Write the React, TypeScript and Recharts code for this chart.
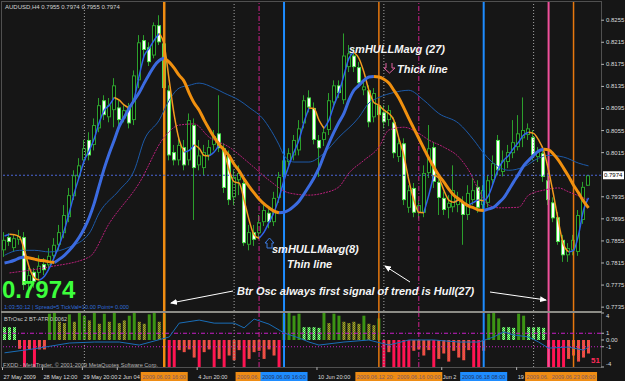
import React from "react"
import { ComposedChart, Bar, Line, XAxis, YAxis, ReferenceLine, Cell } from "recharts"

const FONT = "'Liberation Sans', Arial, sans-serif"
const BG = "#161616"

// AUDUSD H4, 27 May - 23 Jun 2009 (118 bars)
const openP = [
  0.7838, 0.7862, 0.7842, 0.7857, 0.7862, 0.7779, 0.7799, 0.7797, 0.7813, 0.7811,
  0.7828, 0.7848, 0.7869, 0.7898, 0.7936, 0.7972, 0.8001, 0.8038, 0.8029, 0.8059,
  0.8110, 0.8079, 0.8092, 0.8097, 0.8077, 0.8096, 0.8074, 0.8146, 0.8219, 0.8206,
  0.8191, 0.8246, 0.8213, 0.8128, 0.8016, 0.8001, 0.8025, 0.8001, 0.8065, 0.7992,
  0.7987, 0.8010, 0.8029, 0.8050, 0.8023, 0.8010, 0.7934, 0.7965, 0.7960, 0.7848,
  0.7871, 0.7869, 0.7889, 0.7906, 0.7889, 0.7933, 0.7971, 0.7998, 0.8010, 0.8019,
  0.8068, 0.8115, 0.8096, 0.8038, 0.8038, 0.8056, 0.8106, 0.8137, 0.8110, 0.8170,
  0.8191, 0.8170, 0.8128, 0.8128, 0.8079, 0.8101, 0.8088, 0.8074, 0.8070, 0.8007,
  0.8032, 0.7915, 0.7951, 0.7906, 0.7906, 0.7978, 0.8025, 0.7962, 0.7933, 0.7915,
  0.7916, 0.7920, 0.7925, 0.7902, 0.7929, 0.7953, 0.7920, 0.7924, 0.7965, 0.8038,
  0.7980, 0.7998, 0.8014, 0.8025, 0.8041, 0.8047, 0.8043, 0.8007, 0.8014, 0.7965,
  0.7925, 0.7898, 0.7857, 0.7829, 0.7838, 0.7835, 0.7893, 0.7955,
]
const highP = [
  0.7871, 0.7869, 0.7867, 0.7875, 0.7871, 0.7806, 0.7806, 0.7829, 0.7824, 0.7842,
  0.7860, 0.7884, 0.7920, 0.7951, 0.7983, 0.8005, 0.8038, 0.8052, 0.8077, 0.8114,
  0.8119, 0.8114, 0.8150, 0.8110, 0.8101, 0.8105, 0.8164, 0.8228, 0.8228, 0.8215,
  0.8251, 0.8264, 0.8222, 0.8137, 0.8029, 0.8041, 0.8038, 0.8086, 0.8077, 0.8038,
  0.8029, 0.8038, 0.8056, 0.8119, 0.8032, 0.8019, 0.7983, 0.7992, 0.7974, 0.7884,
  0.7884, 0.7902, 0.7924, 0.7915, 0.7944, 0.7980, 0.8014, 0.8023, 0.8047, 0.8074,
  0.8119, 0.8128, 0.8106, 0.8047, 0.8063, 0.8123, 0.8146, 0.8146, 0.8231, 0.8210,
  0.8204, 0.8179, 0.8143, 0.8137, 0.8132, 0.8114, 0.8101, 0.8101, 0.8079, 0.8041,
  0.8041, 0.7956, 0.7960, 0.7929, 0.7992, 0.8065, 0.8034, 0.7972, 0.7944, 0.7938,
  0.7992, 0.7944, 0.7936, 0.7956, 0.7969, 0.7965, 0.7956, 0.7974, 0.8010, 0.8047,
  0.8019, 0.8029, 0.8074, 0.8083, 0.8115, 0.8068, 0.8056, 0.8025, 0.8023, 0.7978,
  0.7934, 0.7907, 0.7866, 0.7851, 0.7866, 0.7911, 0.7962, 0.7974,
]
const lowP = [
  0.7826, 0.7846, 0.7835, 0.7848, 0.7766, 0.7766, 0.7770, 0.7784, 0.7793, 0.7802,
  0.7820, 0.7838, 0.7860, 0.7889, 0.7929, 0.7965, 0.7992, 0.8001, 0.8019, 0.8052,
  0.8074, 0.8070, 0.8061, 0.8065, 0.8070, 0.8059, 0.8065, 0.8132, 0.8186, 0.8172,
  0.8186, 0.8210, 0.8124, 0.8001, 0.7992, 0.7992, 0.7983, 0.7992, 0.7893, 0.7983,
  0.7974, 0.8001, 0.8019, 0.8016, 0.7942, 0.7920, 0.7920, 0.7938, 0.7846, 0.7838,
  0.7846, 0.7860, 0.7882, 0.7878, 0.7882, 0.7924, 0.7962, 0.7987, 0.8001, 0.8010,
  0.8059, 0.8088, 0.8030, 0.7971, 0.8027, 0.8047, 0.8096, 0.8114, 0.8103, 0.8161,
  0.8161, 0.8132, 0.8119, 0.8061, 0.8070, 0.8074, 0.8059, 0.8063, 0.8005, 0.7998,
  0.7920, 0.7906, 0.7898, 0.7896, 0.7898, 0.7969, 0.7951, 0.7902, 0.7902, 0.7896,
  0.7907, 0.7907, 0.7848, 0.7893, 0.7920, 0.7906, 0.7911, 0.7916, 0.7956, 0.7974,
  0.7972, 0.7987, 0.8005, 0.8019, 0.8025, 0.8038, 0.8001, 0.7998, 0.7962, 0.7920,
  0.7889, 0.7848, 0.7817, 0.7817, 0.7829, 0.7828, 0.7886, 0.7955,
]
const closeP = [
  0.7857, 0.7853, 0.7860, 0.7864, 0.7775, 0.7793, 0.7781, 0.7810, 0.7802, 0.7828,
  0.7848, 0.7871, 0.7902, 0.7938, 0.7974, 0.7992, 0.8023, 0.8010, 0.8065, 0.8101,
  0.8083, 0.8101, 0.8137, 0.8074, 0.8092, 0.8068, 0.8155, 0.8215, 0.8201, 0.8179,
  0.8246, 0.8215, 0.8132, 0.8010, 0.8001, 0.8029, 0.7992, 0.8074, 0.7987, 0.8010,
  0.8016, 0.8025, 0.8045, 0.8023, 0.7951, 0.7929, 0.7971, 0.7978, 0.7851, 0.7871,
  0.7857, 0.7889, 0.7911, 0.7889, 0.7933, 0.7971, 0.8001, 0.8014, 0.8038, 0.8059,
  0.8110, 0.8097, 0.8038, 0.8023, 0.8052, 0.8110, 0.8137, 0.8123, 0.8191, 0.8195,
  0.8170, 0.8141, 0.8135, 0.8070, 0.8123, 0.8083, 0.8070, 0.8092, 0.8014, 0.8032,
  0.7929, 0.7947, 0.7906, 0.7920, 0.7978, 0.8023, 0.7962, 0.7933, 0.7911, 0.7924,
  0.7947, 0.7933, 0.7902, 0.7942, 0.7947, 0.7915, 0.7947, 0.7965, 0.7996, 0.7983,
  0.8001, 0.8016, 0.8034, 0.8050, 0.8056, 0.8059, 0.8010, 0.8016, 0.7971, 0.7929,
  0.7896, 0.7853, 0.7829, 0.7842, 0.7857, 0.7902, 0.7953, 0.7974,
]

// smHULLMavg(27) - thick line
const hull27 = [
  0.7815, 0.7817, 0.7820, 0.7824, 0.7826, 0.7824, 0.7822, 0.7820, 0.7819, 0.7817,
  0.7816, 0.7822, 0.7829, 0.7838, 0.7849, 0.7862, 0.7878, 0.7898, 0.7924, 0.7956,
  0.7987, 0.8014, 0.8038, 0.8063, 0.8079, 0.8096, 0.8110, 0.8124, 0.8141, 0.8157,
  0.8172, 0.8182, 0.8186, 0.8179, 0.8168, 0.8155, 0.8144, 0.8123, 0.8105, 0.8092,
  0.8074, 0.8058, 0.8043, 0.8030, 0.8020, 0.8009, 0.7994, 0.7982, 0.7967, 0.7954,
  0.7942, 0.7931, 0.7922, 0.7915, 0.7909, 0.7906, 0.7907, 0.7911, 0.7918, 0.7927,
  0.7940, 0.7954, 0.7969, 0.7987, 0.8010, 0.8032, 0.8052, 0.8070, 0.8086, 0.8110,
  0.8128, 0.8137, 0.8146, 0.8152, 0.8153, 0.8152, 0.8148, 0.8141, 0.8128, 0.8114,
  0.8096, 0.8077, 0.8059, 0.8041, 0.8023, 0.8005, 0.7989, 0.7974, 0.7962, 0.7949,
  0.7938, 0.7931, 0.7924, 0.7918, 0.7915, 0.7911, 0.7910, 0.7913, 0.7916, 0.7924,
  0.7933, 0.7947, 0.7962, 0.7976, 0.7991, 0.8001, 0.8010, 0.8018, 0.8021, 0.8020,
  0.8012, 0.8001, 0.7987, 0.7972, 0.7956, 0.7942, 0.7927, 0.7915,
]
// smHULLMavg(8) - thin line
const hull8 = [
  0.7864, 0.7867, 0.7866, 0.7862, 0.7838, 0.7806, 0.7788, 0.7784, 0.7791, 0.7806,
  0.7826, 0.7848, 0.7875, 0.7907, 0.7942, 0.7972, 0.8001, 0.8019, 0.8041, 0.8070,
  0.8092, 0.8101, 0.8115, 0.8110, 0.8101, 0.8096, 0.8114, 0.8155, 0.8191, 0.8204,
  0.8219, 0.8231, 0.8210, 0.8146, 0.8083, 0.8038, 0.8016, 0.8019, 0.8029, 0.8023,
  0.8010, 0.8009, 0.8016, 0.8029, 0.8016, 0.7983, 0.7962, 0.7960, 0.7929, 0.7893,
  0.7866, 0.7860, 0.7871, 0.7889, 0.7907, 0.7933, 0.7965, 0.7992, 0.8016, 0.8038,
  0.8070, 0.8096, 0.8095, 0.8074, 0.8059, 0.8074, 0.8101, 0.8124, 0.8155, 0.8186,
  0.8197, 0.8186, 0.8161, 0.8128, 0.8106, 0.8101, 0.8092, 0.8086, 0.8074, 0.8041,
  0.8010, 0.7965, 0.7929, 0.7907, 0.7906, 0.7938, 0.7974, 0.7969, 0.7947, 0.7929,
  0.7925, 0.7929, 0.7924, 0.7920, 0.7925, 0.7929, 0.7928, 0.7938, 0.7962, 0.7987,
  0.8001, 0.8010, 0.8023, 0.8034, 0.8047, 0.8052, 0.8050, 0.8038, 0.8019, 0.7983,
  0.7938, 0.7889, 0.7848, 0.7835, 0.7838, 0.7866, 0.7911, 0.7933,
]

// envelope lines (read at a few bars)
const upperIdx = [0, 3, 6, 9, 13, 17, 19, 23, 26, 28, 31, 33, 35, 37, 39, 42, 44, 47, 49, 52, 53, 55, 56, 58, 61, 64, 67, 71, 73, 75, 78, 81, 84, 87, 91, 94, 96, 99, 101, 104, 107, 109, 112, 115, 117]
const upperVal = [0.7829, 0.7838, 0.7838, 0.7835, 0.7844, 0.7869, 0.7906, 0.7947, 0.7983, 0.8038, 0.8074, 0.8110, 0.8132, 0.8137, 0.8141, 0.8132, 0.8123, 0.8110, 0.8097, 0.8074, 0.8061, 0.8029, 0.8010, 0.7998, 0.7998, 0.8014, 0.8043, 0.8079, 0.8105, 0.8115, 0.8124, 0.8128, 0.8110, 0.8086, 0.8068, 0.8038, 0.8014, 0.7989, 0.7983, 0.7989, 0.8005, 0.8010, 0.8007, 0.7996, 0.7991]
const lowerIdx = [1, 9, 17, 21, 27, 32, 35, 38, 41, 45, 49, 53, 57, 61, 64, 67, 69, 72, 75, 77, 80, 83, 85, 88, 91, 93, 95, 97, 99, 103, 105, 108, 111, 113, 116, 117]
const lowerVal = [0.7797, 0.7808, 0.7826, 0.7887, 0.7960, 0.8043, 0.8065, 0.8067, 0.8043, 0.8025, 0.7996, 0.7965, 0.7942, 0.7938, 0.7942, 0.7953, 0.7978, 0.8001, 0.8025, 0.8056, 0.8061, 0.8050, 0.8038, 0.8025, 0.8007, 0.7983, 0.7947, 0.7920, 0.7915, 0.7916, 0.7938, 0.7947, 0.7951, 0.7944, 0.7933, 0.7929]

// BTrOsc histogram + BT-ATR line
const oscVal = [
  1.9, 1.9, 1.9, -1.3, -4.0, -1.4, -4.0, -1.4, -1.4,
  3.9, 4.0, 2.7, 2.5, 3.8, 2.7, 4.0, 3.6, 2.9, 4.0, 2.4, 3.9, 2.7, 4.0, 2.5, 2.9, 3.6, 4.0, 2.7, 2.4, 3.8, 4.0, 2.7, 3.9,
  -4.0, -4.0, -1.5, -1.8, -1.4, -2.6, -4.0, -1.8, -1.4, -4.0, -2.8, -4.0, -2.3, -3.0, -1.5, -4.0, -2.8, -1.8, -1.6, -2.8, -1.4, -2.3, -4.0,
  3.9, 4.0, 3.6, 3.9, 1.9, 1.9, 1.9, 1.8, 4.0, 2.5, 3.9, 3.6, 2.7, 2.5, 2.7, 2.4, 3.6, 2.4, 2.2, 3.2,
  -4.0, -1.8, -4.0, -4.0, -4.0, -4.0, -1.6, -1.4, -2.3, -1.5, -4.0, -2.8, -2.0, -3.2, -1.6, -2.6, -3.0, -1.5, -4.0, -4.0, -1.6,
  3.9, 4.0, 3.2, 1.9, 1.9, 1.8, 3.9, 3.6, 1.9, 1.9, 1.9, 1.8,
  -4.0, -4.0, -4.0, -4.0, -2.8, -2.3, -3.2, -2.6, -2.0,
]
// G strong up, g weak up, L light up, R strong down, r weak down
const oscKind = (
  "LLLrRrRrr" +
  "GGggGgGGgGgGgGggGGggGGgG" +
  "RRrrrrRrrRrRrrrRrrrrrrR" +
  "GGGGLLLLGgGGggggGggG" +
  "RrRRRRrrrrRrrrrrrrRRr" +
  "GGGLLLGGLLLL" +
  "RRRRrrrrr"
).split("")
const atrIdx = [0, 6, 13, 18, 23, 27, 33, 35, 39, 42, 46, 48, 50, 53, 56, 59, 61, 63, 68, 73, 77, 81, 86, 91, 95, 98, 100, 102, 105, 107, 109, 113, 116, 117]
const atrVal = [-1.9, -1.3, -0.45, -0.3, -0.3, -0.75, 0.45, 2.5, 2.95, 2.5, 2.5, 1.8, 3.1, 2.35, 1.05, 0.3, -0.3, -0.75, -0.3, 0, -0.75, 0, 0, -0.3, -0.3, 0.45, 1.2, 0.75, 0.45, -0.3, -1.2, -1.05, -1.5, -1.05]

const lastPrice = 0.7974
const priceTicks = [0.8255, 0.8215, 0.8175, 0.8135, 0.8095, 0.8055, 0.8015, lastPrice, 0.7935, 0.7895, 0.7855, 0.7815, 0.7775, 0.7735]
const oscTicks = [4, 1, 0, -1, -4]

// time labels, as much of each as the chart leaves visible
const timeIdx = [0, 8, 16, 23, 39, 63, 88, 103]
const timeText = ["27 May 2009", "28 May 12:00", "29 May 20:00", "2 Jun 04", "4 Jun 20:00", "10 Jun 20:00", "Jun 2", "19"]
const markerIdx = [32, 51, 56, 75, 83, 96, 109, 114]
const markerTime = ["2009.06.03 16:00", "2009.06.", "2009.06.09 16:00", "2009.06.12 20:", "2009.06.16 00:00", "2009.06.18 08:00", "2009.06.", "2009.06.23 08:00"]
const markerKind = ["orangeWide", "magenta", "blue", "orange", "magenta", "blue", "pink", "orange"]
const gridIdx = [16, 46, 76, 106]

const SLOTS = 120 // two empty bars of chart shift on the right

const lineStyle: Record<string, { stroke: string; width: number; dash?: string }> = {
  orangeWide: { stroke: "#f08c12", width: 2.5 },
  orange: { stroke: "#e8780e", width: 1.5 },
  magenta: { stroke: "#d0208c", width: 1, dash: "5 2 1 2" },
  blue: { stroke: "#1e8cff", width: 2 },
  pink: { stroke: "#f0509a", width: 2 },
}

const kindFill: Record<string, string> = {
  G: "#3c9414",
  g: "url(#chkG)",
  L: "url(#litG)",
  R: "#ff1452",
  r: "url(#chkR)",
}

function splitTrend(vals: number[]) {
  const up: (number | null)[] = vals.map(() => null)
  const dn: (number | null)[] = vals.map(() => null)
  for (let k = 0; k < vals.length - 1; k++) {
    const t = vals[k + 1] >= vals[k] ? up : dn
    t[k] = vals[k]
    t[k + 1] = vals[k + 1]
  }
  return { up, dn }
}

const t27 = splitTrend(hull27)
const t8 = splitTrend(hull8)

const rows: any[] = Array.from({ length: SLOTS }, (_, i) => {
  const has = i < closeP.length
  return {
    i,
    range: has ? [lowP[i], highP[i]] : undefined,
    o: has ? openP[i] : undefined,
    h: has ? highP[i] : undefined,
    l: has ? lowP[i] : undefined,
    c: has ? closeP[i] : undefined,
    h27up: t27.up[i] ?? null,
    h27dn: t27.dn[i] ?? null,
    h8up: t8.up[i] ?? null,
    h8dn: t8.dn[i] ?? null,
    upper: null,
    lower: null,
    osc: has ? oscVal[i] : null,
    atr: null,
  }
})
upperIdx.forEach((k, j) => (rows[k].upper = upperVal[j]))
lowerIdx.forEach((k, j) => (rows[k].lower = lowerVal[j]))
atrIdx.forEach((k, j) => (rows[k].atr = atrVal[j]))

function Candle(props: any) {
  const { x, y, width, height, payload } = props
  if (!payload || payload.o == null) return <g />
  const { o, h, l, c } = payload
  const top = Math.min(y, y + height)
  const span = Math.abs(height)
  const py = (v: number) => top + ((h - v) / (h - l || 1)) * span
  const ci = Math.round(x + width / 2)
  const bull = c >= o
  const bTop = py(Math.max(o, c))
  const bh = Math.max(1, py(Math.min(o, c)) - bTop)
  return (
    <g>
      <rect x={ci - 1} y={top} width={1} height={Math.max(1, span)} fill="#2ca02c" />
      <rect x={ci - 2} y={bTop} width={4} height={bh} fill={bull ? "#2ca02c" : "#4ee04e"} />
      {bh > 2 && (
        <rect x={ci - 1} y={bTop + 1} width={2} height={bh - 2} fill={bull ? "#0c0c0c" : "#ffffff"} />
      )}
    </g>
  )
}

function PriceTick(p: any) {
  const v = p.payload.value
  if (v === lastPrice) {
    return (
      <g>
        <rect x={p.x + 2} y={p.y - 4} width={21} height={8} fill="#ffffff" />
        <text x={p.x + 3} y={p.y + 2} fontSize={6} fill="#000" fontFamily={FONT}>
          {v.toFixed(4)}
        </text>
      </g>
    )
  }
  return (
    <g>
      <line x1={p.x} x2={p.x + 3} y1={p.y} y2={p.y} stroke="#b8b8b8" />
      <text x={p.x + 5} y={p.y + 2} fontSize={6} fill="#dcdcdc" fontFamily={FONT}>
        {v.toFixed(4)}
      </text>
    </g>
  )
}

function OscTick(p: any) {
  const v = p.payload.value
  const dy = v === 4 ? 5 : v === -4 ? -1 : 2
  return (
    <g>
      <line x1={p.x} x2={p.x + 3} y1={p.y} y2={p.y} stroke="#b8b8b8" />
      <text x={p.x + 5} y={p.y + dy} fontSize={6} fill="#dcdcdc" fontFamily={FONT}>
        {v === 0 ? "0.00" : String(v)}
      </text>
    </g>
  )
}

function TimeTick(p: any) {
  const v = p.payload.value
  const m = markerIdx.indexOf(v)
  if (m >= 0) {
    const blue = markerKind[m] === "blue"
    const full = markerTime[m].length > 15
    return (
      <g>
        <rect x={p.x - 23.5} y={p.y + 5} width={47} height={9} fill={blue ? "#1e8cff" : "#ee8c14"} />
        <text
          x={full ? p.x : p.x - 22}
          y={p.y + 12}
          textAnchor={full ? "middle" : "start"}
          fontSize={5.6}
          fill={blue ? "#24345e" : "#7e5a64"}
          fontFamily={FONT}
        >
          {markerTime[m]}
        </text>
      </g>
    )
  }
  const t = timeIdx.indexOf(v)
  return (
    <g>
      <line x1={p.x - 2} x2={p.x - 2} y1={p.y} y2={p.y + 3} stroke="#b8b8b8" />
      <text x={p.x - 1} y={p.y + 12} fontSize={5.6} fill="#dcdcdc" fontFamily={FONT}>
        {timeText[t]}
      </text>
    </g>
  )
}

function verticals(prefix: string) {
  return [
    ...gridIdx.map((k) => (
      <ReferenceLine key={prefix + "g" + k} x={k} stroke="#a4a4a4" strokeDasharray="1 2" />
    )),
    ...markerIdx.map((k, j) => {
      const s = lineStyle[markerKind[j]]
      return (
        <ReferenceLine key={prefix + "m" + k} x={k} stroke={s.stroke} strokeWidth={s.width} strokeDasharray={s.dash} />
      )
    }),
  ]
}

const note = { fill: "#f4f4f4", fontSize: 11, fontWeight: 700, fontStyle: "italic", fontFamily: FONT } as const

export default function App() {
  return (
    <div style={{ position: "absolute", left: 0, top: 0, width: 625, height: 381, background: BG, overflow: "hidden" }}>
      <svg width={0} height={0} style={{ position: "absolute" }}>
        <defs>
          <pattern id="chkG" width="2" height="2" patternUnits="userSpaceOnUse">
            <rect width="2" height="2" fill="#3f8f1c" />
            <rect width="1" height="1" fill="#c8842a" />
            <rect x="1" y="1" width="1" height="1" fill="#c8842a" />
          </pattern>
          <pattern id="litG" width="2" height="2" patternUnits="userSpaceOnUse">
            <rect width="2" height="2" fill="#2fb52f" />
            <rect width="1" height="1" fill="#90ff90" />
            <rect x="1" y="1" width="1" height="1" fill="#90ff90" />
          </pattern>
          <pattern id="chkR" width="2" height="2" patternUnits="userSpaceOnUse">
            <rect width="2" height="2" fill="#dc7428" />
            <rect width="1" height="1" fill="#ff2a62" />
            <rect x="1" y="1" width="1" height="1" fill="#ff2a62" />
          </pattern>
        </defs>
      </svg>

      <div style={{ position: "absolute", left: 0, top: 0 }}>
        <ComposedChart width={625} height={312} data={rows} margin={{ top: 2, right: 0, bottom: 1, left: 2 }}>
          <XAxis dataKey="i" type="category" hide />
          <YAxis
            orientation="right"
            type="number"
            domain={[0.7728, 0.8288]}
            allowDataOverflow
            ticks={priceTicks}
            interval={0}
            width={24}
            axisLine={false}
            tickLine={false}
            tickSize={0}
            tickMargin={0}
            tick={PriceTick}
          />
          {verticals("a")}
          <ReferenceLine y={lastPrice} stroke="#4b66d6" strokeDasharray="2 2" />
          <Line dataKey="upper" stroke="#1d5aa8" strokeWidth={1} dot={false} activeDot={false} connectNulls type="monotone" isAnimationActive={false} />
          <Line dataKey="lower" stroke="#b8207a" strokeWidth={1} strokeDasharray="2 1" dot={false} activeDot={false} connectNulls type="monotone" isAnimationActive={false} />
          <Bar dataKey="range" barSize={5} shape={(p: any) => <Candle {...p} />} isAnimationActive={false} />
          <Line dataKey="h8up" stroke="#2f63e8" strokeWidth={1.5} dot={false} activeDot={false} type="monotone" isAnimationActive={false} />
          <Line dataKey="h8dn" stroke="#f39a1e" strokeWidth={1.5} dot={false} activeDot={false} type="monotone" isAnimationActive={false} />
          <Line dataKey="h27up" stroke="#3b6be0" strokeWidth={3} dot={false} activeDot={false} type="monotone" isAnimationActive={false} />
          <Line dataKey="h27dn" stroke="#f0900f" strokeWidth={3} dot={false} activeDot={false} type="monotone" isAnimationActive={false} />
        </ComposedChart>
      </div>

      <div style={{ position: "absolute", left: 0, top: 312 }}>
        <ComposedChart width={625} height={69} data={rows} margin={{ top: 1, right: 0, bottom: 0, left: 2 }}>
          <XAxis
            dataKey="i"
            type="category"
            ticks={[...timeIdx, ...markerIdx]}
            interval={0}
            height={14}
            axisLine={false}
            tickLine={false}
            tickSize={0}
            tickMargin={0}
            tick={TimeTick}
          />
          <YAxis
            orientation="right"
            type="number"
            domain={[-4, 4]}
            allowDataOverflow
            ticks={oscTicks}
            interval={0}
            width={24}
            axisLine={false}
            tickLine={false}
            tickSize={0}
            tickMargin={0}
            tick={OscTick}
          />
          {verticals("b")}
          <ReferenceLine y={1} stroke="#c81ec8" strokeDasharray="4 2 1 2" />
          <ReferenceLine y={-1} stroke="#c81ec8" strokeDasharray="1 2" />
          <Bar dataKey="osc" barSize={3} isAnimationActive={false}>
            {rows.map((r, k) => (
              <Cell key={k} fill={kindFill[oscKind[k]] ?? "none"} />
            ))}
          </Bar>
          <Line dataKey="atr" stroke="#1a6eb8" strokeWidth={1} dot={false} activeDot={false} connectNulls type="linear" isAnimationActive={false} />
        </ComposedChart>
      </div>

      <svg width={625} height={381} style={{ position: "absolute", left: 0, top: 0, pointerEvents: "none" }}>
        <defs>
          <marker id="ah" markerWidth="7" markerHeight="6" refX="6" refY="3" orient="auto">
            <path d="M0,0 L7,3 L0,6 z" fill="#ffffff" />
          </marker>
        </defs>
        <rect x={1.5} y={1.5} width={600} height={366} fill="none" stroke="#8a8a8a" strokeDasharray="1 1" />
        <rect x={1} y={311} width={601} height={2} fill="#8c8c86" />

        <text x={5} y={9} fontSize={6} fill="#d4d4d4" fontFamily={FONT}>
          AUDUSD,H4  0.7955 0.7974 0.7955 0.7974
        </text>
        <text x={2} y={298} fontSize={24} fontWeight={700} fill="#3cff3c" fontFamily={FONT}>
          0.7974
        </text>
        <text x={4} y={308.5} fontSize={5.6} fill="#2f6ad8" fontFamily={FONT}>
          1:03:50:12 | Spread=5  TickVal=10.00  Point= 0.000
        </text>
        <text x={4} y={321} fontSize={5.6} fill="#cccccc" fontFamily={FONT}>
          BTrOsc 2  BT-ATR 0.0062
        </text>
        <text x={3} y={367} fontSize={5.6} fill="#b4b4b4" fontFamily={FONT}>
          FXDD - MetaTrader, © 2001-2009 MetaQuotes Software Corp.
        </text>
        <text x={591} y={363} fontSize={8} fontWeight={700} fill="#ff2a5a" fontFamily={FONT}>
          51
        </text>

        <text x={349} y={53} {...note}>smHULLMavg (27)</text>
        <path d="M386,63 L386,68 L384,68 L389.5,73 L395,68 L392,68 L392,63" fill="none" stroke="#e060a0" />
        <text x={397} y={73} {...note}>Thick line</text>
        <path d="M269.5,238 L265,243 L267,243 L267,248 L272,248 L272,243 L274,243 Z" fill="none" stroke="#3a7ae0" />
        <text x={272} y={253} {...note}>smHULLMavg(8)</text>
        <text x={287} y={268} {...note}>Thin line</text>
        <text x={237} y={295} {...note}>Btr Osc always first signal of trend is Hull(27)</text>

        <line x1={233} y1={291} x2={171} y2={303} stroke="#ffffff" markerEnd="url(#ah)" />
        <line x1={490} y1={292} x2={546} y2={300} stroke="#ffffff" markerEnd="url(#ah)" />
        <line x1={410} y1={282} x2={385} y2={266} stroke="#ffffff" markerEnd="url(#ah)" />
      </svg>
    </div>
  )
}
